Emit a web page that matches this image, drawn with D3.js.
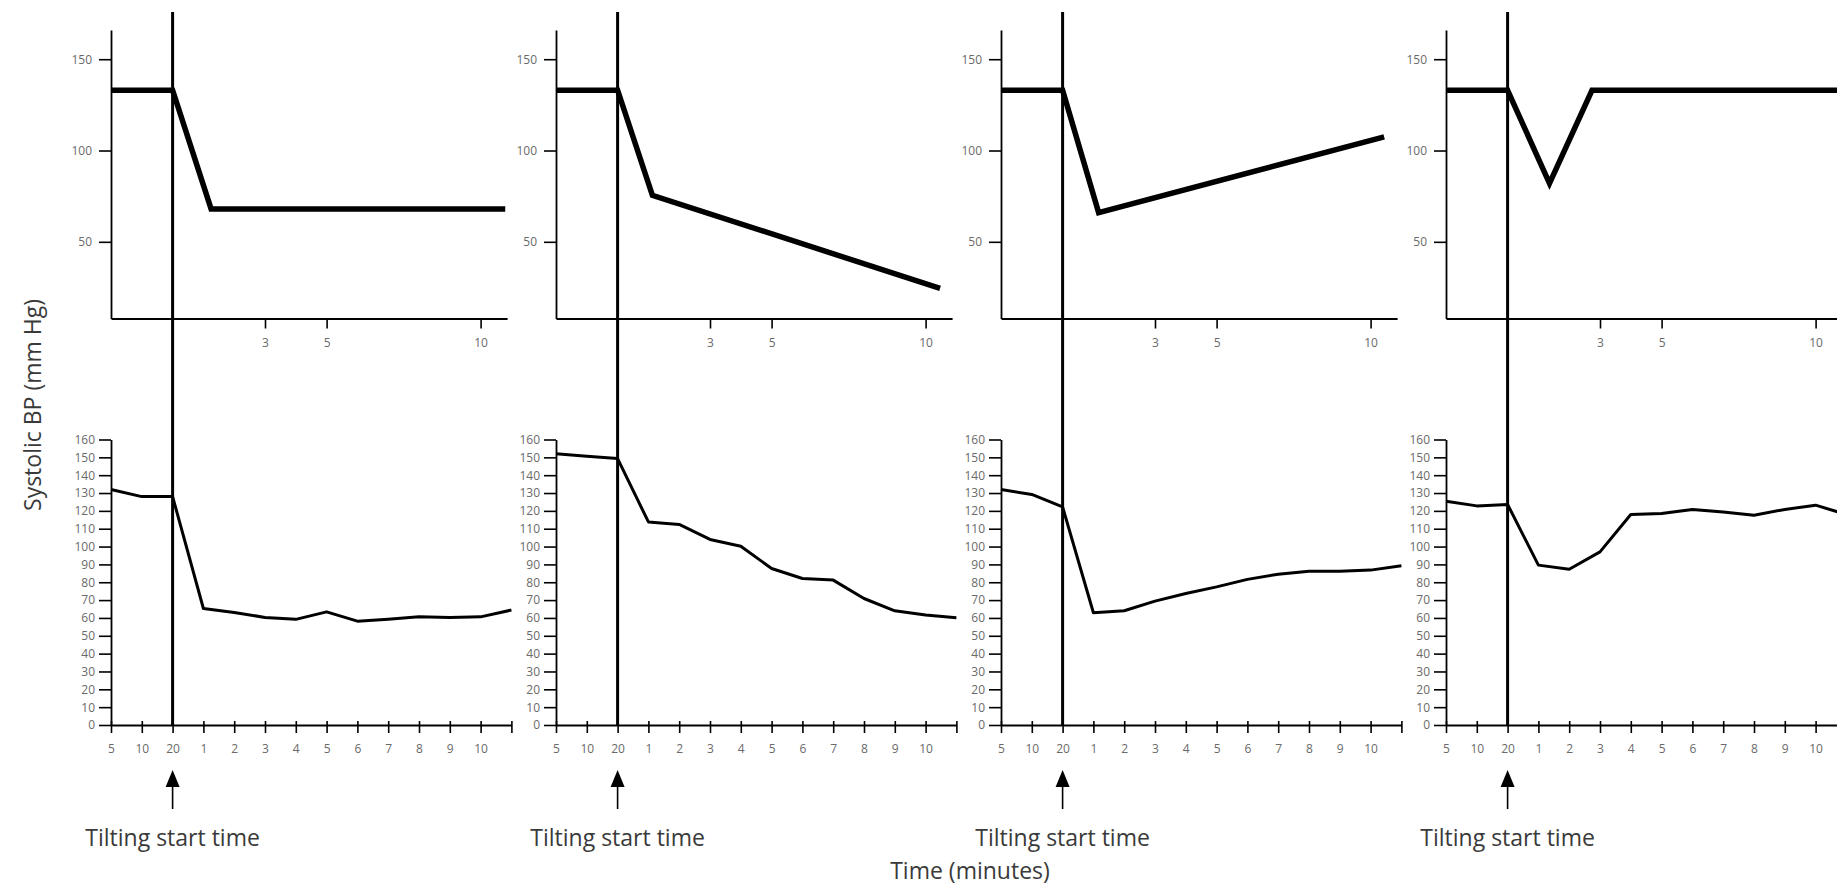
<!DOCTYPE html>
<html>
<head>
<meta charset="utf-8">
<script src="https://cdn.jsdelivr.net/npm/d3@7"></script>
<style>
  html, body { margin: 0; padding: 0; background: #fff; }
  svg { display: block; }
  .tick text { font-family: "Open Sans", sans-serif; font-size: 12px; fill: #6a6a6a; }
  .title { font-family: "Open Sans", sans-serif; font-size: 23px; fill: #3a3a3a; }
</style>
</head>
<body>
<svg id="chart" width="1837" height="886"></svg>
<script>
// ---------- data ----------
const panels = ["A", "B", "C", "D"];

// schematic (upper) curves: minutes after tilting vs systolic BP
const schematicMinutes = [
  [-2, 0, 1.25, 10.8],
  [-2, 0, 1.13, 10.47],
  [-2, 0, 1.17, 10.44],
  [-2, 0, 1.36, 2.74, 11]
];
const schematicBP = [
  [133, 133, 68, 68],
  [133, 133, 75.5, 24.5],
  [133, 133, 66, 107.5],
  [133, 133, 82, 133, 133]
];
const upperYTicks = [50, 100, 150];
const upperXTicks = [3, 5, 10];

// measured (lower) curves
const lowerMinutes = [-2, -1, 0, 1, 2, 3, 4, 5, 6, 7, 8, 9, 10, 11];
const lowerTickLabels = ["5", "10", "20", "1", "2", "3", "4", "5", "6", "7", "8", "9", "10", ""];
const lowerYTicks = [0, 10, 20, 30, 40, 50, 60, 70, 80, 90, 100, 110, 120, 130, 140, 150, 160];
const caseBP = [
  [132, 128, 128, 65.3, 63.1, 60.3, 59.2, 63.4, 58.2, 59.3, 60.6, 60.3, 60.6, 64.4],
  [152, 150.6, 149.3, 113.8, 112.4, 104, 100.2, 87.7, 82.1, 81.2, 70.9, 64, 61.6, 60.1],
  [132, 129.2, 122.2, 62.9, 64, 69.4, 73.7, 77.4, 81.6, 84.5, 86.2, 86.2, 86.8, 89.2],
  [125.4, 122.8, 123.6, 89.6, 87.3, 97, 118, 118.5, 120.8, 119.4, 117.6, 120.8, 123.2, 118]
];

const yTitle = "Systolic BP (mm Hg)";
const xTitle = "Time (minutes)";
const markerLabel = "Tilting start time";

// ---------- layout ----------
const svg = d3.select("#chart");
const panelLeft = [111, 556, 1001, 1446];
const pxPerMin = 30.8;
const upperTop = 30, upperBottom = 318.5;
const lowerTop = 439.5, lowerBottom = 725;

const yUpper = d3.scaleLinear().domain([8, 166]).range([upperBottom, upperTop]);
const yLower = d3.scaleLinear().domain([0, 160]).range([lowerBottom, lowerTop]);

panels.forEach((p, i) => {
  const ax = panelLeft[i];
  const x = d3.scaleLinear().domain([-2, 11]).range([ax, ax + 13 * pxPerMin]);
  const xUp = d3.scaleLinear().domain([-2, 10.86]).range([ax, ax + 12.86 * pxPerMin]);
  const g = svg.append("g");

  // ----- upper schematic -----
  const yAxU = g.append("g").attr("transform", `translate(${ax},0)`)
    .call(d3.axisLeft(yUpper).tickValues(upperYTicks).tickSize(12).tickSizeOuter(0).tickPadding(7));
  const xAxU = g.append("g").attr("transform", `translate(0,${upperBottom})`)
    .call(d3.axisBottom(xUp).tickValues(upperXTicks).tickSize(10).tickSizeOuter(0).tickPadding(10));
  [yAxU, xAxU].forEach(a => {
    a.select(".domain").attr("stroke", "#000").attr("stroke-width", 1.8);
    a.selectAll(".tick line").attr("stroke", "#000").attr("stroke-width", 1.6);
  });

  const upLine = d3.line().x(d => xUp(d[0])).y(d => yUpper(d[1]));
  g.append("path")
    .datum(schematicMinutes[i].map((m, k) => [m, schematicBP[i][k]]))
    .attr("d", upLine)
    .attr("fill", "none").attr("stroke", "#000").attr("stroke-width", 5.5)
    .attr("stroke-linejoin", "miter");

  // ----- lower measured -----
  const yAxL = g.append("g").attr("transform", `translate(${ax},0)`)
    .call(d3.axisLeft(yLower).tickValues(lowerYTicks).tickSize(12).tickSizeOuter(0).tickPadding(4));
  const xAxL = g.append("g").attr("transform", `translate(0,${lowerBottom})`)
    .call(d3.axisBottom(x).tickValues(lowerMinutes)
      .tickFormat((d, k) => lowerTickLabels[k]).tickSize(8).tickSizeOuter(0).tickPadding(11));
  xAxL.selectAll(".tick line").attr("y1", -4);
  [yAxL, xAxL].forEach(a => {
    a.select(".domain").attr("stroke", "#000").attr("stroke-width", 1.8);
    a.selectAll(".tick line").attr("stroke", "#000").attr("stroke-width", 1.6);
  });

  const lowLine = d3.line().x(d => x(d[0])).y(d => yLower(d[1]));
  g.append("path")
    .datum(lowerMinutes.map((m, k) => [m, caseBP[i][k]]))
    .attr("d", lowLine)
    .attr("fill", "none").attr("stroke", "#000").attr("stroke-width", 3)
    .attr("stroke-linejoin", "round");

  // ----- tilting start line -----
  const x0 = x(0);
  g.append("line")
    .attr("x1", x0).attr("x2", x0).attr("y1", 12).attr("y2", lowerBottom)
    .attr("stroke", "#000").attr("stroke-width", 3);

  // ----- arrow + label -----
  g.append("line")
    .attr("x1", x0).attr("x2", x0).attr("y1", 784).attr("y2", 809)
    .attr("stroke", "#000").attr("stroke-width", 1.6);
  g.append("path")
    .attr("d", `M${x0},770 L${x0 - 7},787 L${x0 + 7},787 Z`)
    .attr("fill", "#000");
  g.append("text").attr("class", "title")
    .attr("x", x0).attr("y", 846).attr("text-anchor", "middle")
    .text(markerLabel);
});

svg.append("text").attr("class", "title")
  .attr("transform", "translate(41,405) rotate(-90)")
  .attr("text-anchor", "middle")
  .text(yTitle);

svg.append("text").attr("class", "title")
  .attr("x", 970).attr("y", 879).attr("text-anchor", "middle")
  .text(xTitle);
</script>
</body>
</html>
